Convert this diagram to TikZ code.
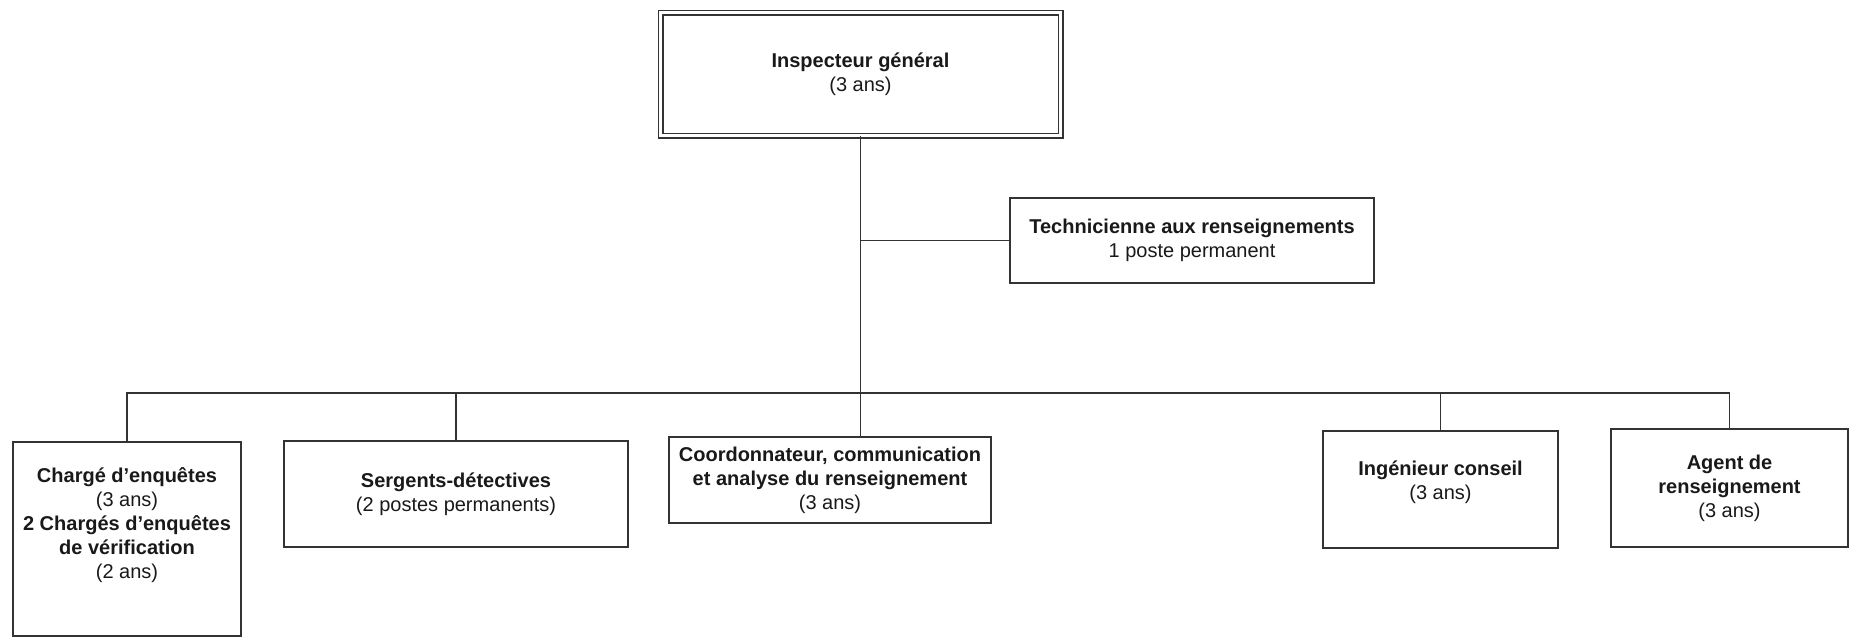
\documentclass[tikz,border=0pt]{standalone}
\usepackage{fontspec}
\setmainfont{Liberation Sans}

\begin{document}
\begin{tikzpicture}[x=0.5pt,y=-0.5pt,
    box/.style={draw=black!80, line width=0.7pt, align=center, inner sep=0pt,
      text=black!90, font=\fontsize{10}{12}\selectfont},
    link/.style={draw=black!80, line width=0.7pt}]
  \useasboundingbox (0,0) rectangle (1855,638);
  \node[box, double, double distance=1.6pt, minimum width=200pt, minimum height=61.5pt] (insp) at (860.5,74)
    {\textbf{Inspecteur général}\\(3 ans)};
  \node[box, minimum width=182pt, minimum height=42.5pt] (tech) at (1192,240.5)
    {\textbf{Technicienne aux renseignements}\\1 poste permanent};
  \node[box, minimum width=114pt, minimum height=97pt] (charge) at (127,539)
    {\textbf{Chargé d’enquêtes}\\(3 ans)\\\textbf{2 Chargés d’enquêtes}\\\textbf{de vérification}\\(2 ans)\\\strut};
  \node[box, minimum width=172pt, minimum height=53pt] (serg) at (456,494)
    {\textbf{Sergents-détectives}\\(2 postes permanents)};
  \node[box, minimum width=161pt, minimum height=43pt] (coord) at (830,480)
    {\textbf{Coordonnateur, communication}\\\textbf{et analyse du renseignement}\\(3 ans)};
  \node[box, minimum width=117.5pt, minimum height=58.5pt] (ing) at (1440.5,489.5)
    {\textbf{Ingénieur conseil}\\(3 ans)\\[-6pt]\strut};
  \node[box, minimum width=118.5pt, minimum height=59pt] (agent) at (1729.5,488)
    {\textbf{Agent de}\\\textbf{renseignement}\\(3 ans)};
  \coordinate (bus) at (862,393);
  \draw[link] (insp.south) -- (insp.south |- coord.north); % insp -> coord
  \draw[link] (tech.west) -- (tech.west -| insp.south); % insp -> tech
  \draw[link] (charge.north) |- (bus) -| (agent.north); % bus
  \draw[link] (serg.north) -- (serg.north |- bus); % bus -> serg
  \draw[link] (ing.north) -- (ing.north |- bus); % bus -> ing
\end{tikzpicture}
\end{document}
